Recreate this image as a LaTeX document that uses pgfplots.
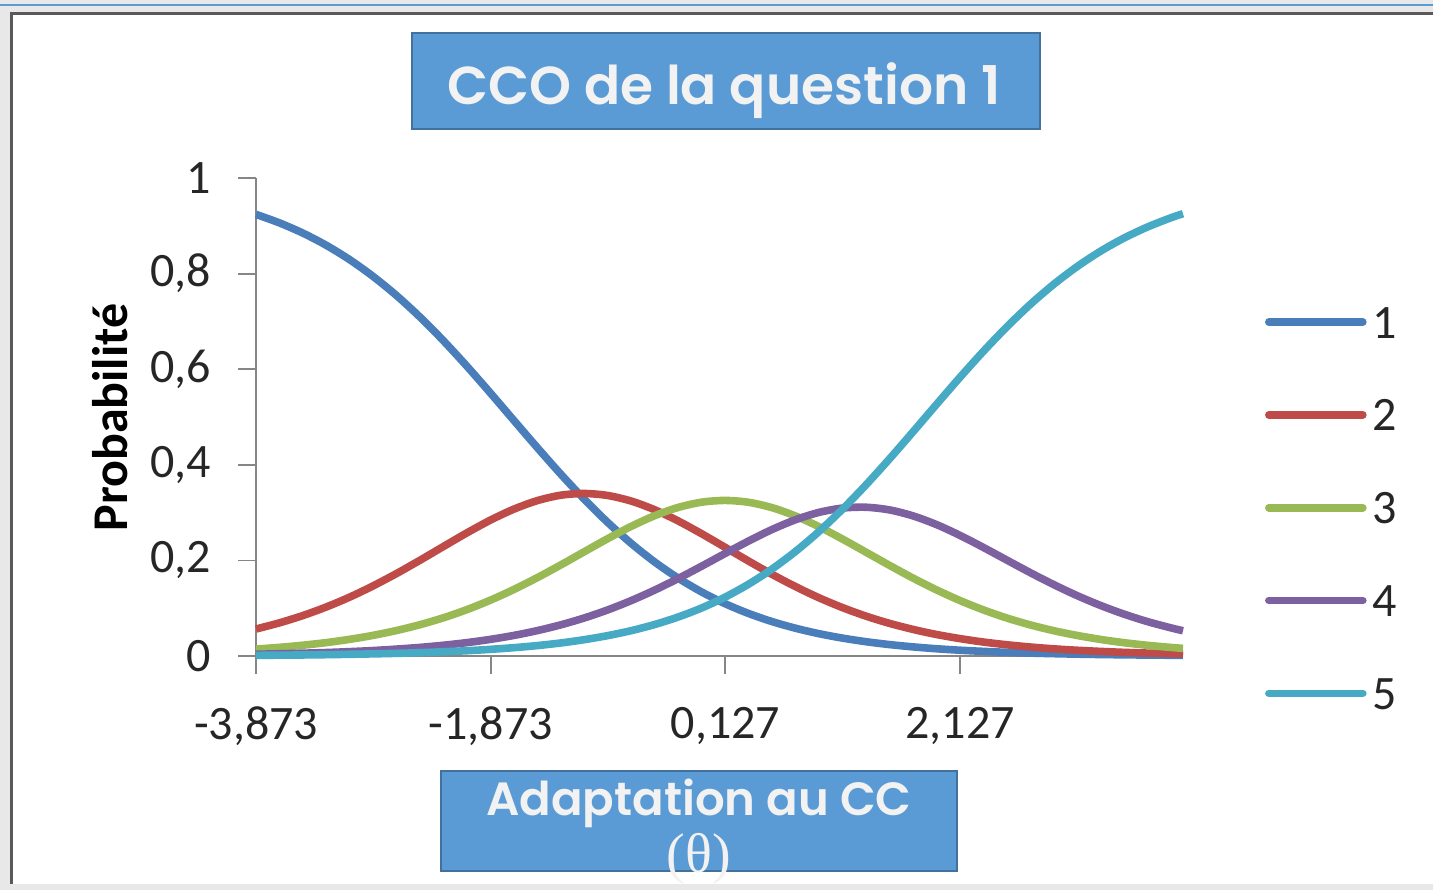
\documentclass[border=0pt]{standalone}
\usepackage{fontspec}
\setmainfont{Carlito}
\newfontfamily\gothic{Poppins SemiBold}
\newfontfamily\serifgr{Liberation Serif}
\usepackage{pgfplots}
\usepackage{pgfplotstable}
\pgfplotsset{compat=1.18}
\definecolor{c1}{HTML}{4A7EBB}
\definecolor{c2}{HTML}{BE4B48}
\definecolor{c3}{HTML}{98B954}
\definecolor{c4}{HTML}{7D60A0}
\definecolor{c5}{HTML}{46AAC5}
\definecolor{boxfill}{HTML}{5B9BD5}
\definecolor{boxdraw}{HTML}{41719C}
\definecolor{axgray}{HTML}{868686}
\definecolor{txt}{HTML}{262626}

\pgfplotstableread{
x p1 p2 p3 p4 p5
-3.873 0.9239 0.0565 0.0145 0.0037 0.0014
-3.673 0.9061 0.0694 0.0181 0.0047 0.0018
-3.473 0.8847 0.0847 0.0226 0.0059 0.0022
-3.273 0.8591 0.1027 0.0281 0.0073 0.0028
-3.073 0.8289 0.1234 0.0350 0.0092 0.0036
-2.873 0.7937 0.1470 0.0433 0.0115 0.0045
-2.673 0.7536 0.1729 0.0535 0.0145 0.0056
-2.473 0.7085 0.2007 0.0657 0.0181 0.0070
-2.273 0.6589 0.2295 0.0802 0.0226 0.0089
-2.073 0.6055 0.2580 0.0973 0.0281 0.0111
-1.873 0.5495 0.2846 0.1171 0.0349 0.0140
-1.673 0.4922 0.3075 0.1395 0.0432 0.0175
-1.473 0.4352 0.3253 0.1643 0.0533 0.0219
-1.273 0.3798 0.3365 0.1909 0.0654 0.0274
-1.073 0.3273 0.3400 0.2185 0.0798 0.0343
-0.873 0.2789 0.3357 0.2459 0.0967 0.0428
-0.673 0.2351 0.3240 0.2715 0.1162 0.0532
-0.473 0.1963 0.3057 0.2938 0.1382 0.0661
-0.273 0.1626 0.2823 0.3110 0.1624 0.0818
-0.073 0.1337 0.2555 0.3219 0.1882 0.1007
0.127 0.1092 0.2270 0.3255 0.2148 0.1235
0.327 0.0888 0.1983 0.3215 0.2408 0.1506
0.527 0.0719 0.1706 0.3102 0.2649 0.1824
0.727 0.0580 0.1449 0.2927 0.2853 0.2192
0.927 0.0466 0.1216 0.2702 0.3006 0.2610
1.127 0.0374 0.1011 0.2444 0.3095 0.3076
1.327 0.0299 0.0833 0.2170 0.3112 0.3585
1.527 0.0239 0.0682 0.1895 0.3056 0.4128
1.727 0.0191 0.0556 0.1629 0.2931 0.4693
1.927 0.0152 0.0450 0.1383 0.2749 0.5266
2.127 0.0121 0.0364 0.1160 0.2523 0.5832
2.327 0.0097 0.0292 0.0964 0.2270 0.6377
2.527 0.0077 0.0235 0.0794 0.2005 0.6889
2.727 0.0061 0.0188 0.0650 0.1742 0.7359
2.927 0.0049 0.0150 0.0529 0.1492 0.7780
3.127 0.0039 0.0120 0.0429 0.1261 0.8151
3.327 0.0031 0.0096 0.0346 0.1055 0.8473
3.527 0.0025 0.0076 0.0278 0.0874 0.8747
3.727 0.0020 0.0061 0.0223 0.0718 0.8978
3.927 0.0016 0.0048 0.0179 0.0587 0.9171
4.027 0.0014 0.0043 0.0160 0.0529 0.9253
}\datatable

\begin{document}
\begin{tikzpicture}
\useasboundingbox (0,0) rectangle (716.5pt,-445pt);
\fill[black!9] (0,0) rectangle (716.5pt,-445pt);
\draw[boxfill, line width=0.8pt] (0,-2.5pt) -- (716.5pt,-2.5pt);
\fill[white] (6pt,-7pt) rectangle (716.5pt,-442pt);
\draw[black!65, line width=1.5pt] (5.5pt,-442pt) -- (5.5pt,-6.5pt) -- (716.5pt,-6.5pt);

% title box
\draw[boxdraw, fill=boxfill, line width=1pt] (206pt,-16.5pt) rectangle (520pt,-64.5pt);
\node[anchor=base, inner sep=0pt, text=white!95!black, font=\gothic\fontsize{26.7}{30}\selectfont] at (362pt,-52pt) {CCO de la question 1};

% y label
\node[rotate=90, anchor=base, inner sep=0pt, text=black, font=\bfseries\fontsize{25}{25}\selectfont] at (63.5pt,-208.75pt) {Probabilité};

% x label box
\draw[boxdraw, fill=boxfill, line width=1pt] (220.5pt,-385.5pt) rectangle (478.5pt,-435.5pt);
\node[anchor=base, inner sep=0pt, text=white!95!black, font=\gothic\fontsize{23.3}{26}\selectfont] at (349.5pt,-407.5pt) {Adaptation au CC};
\node[anchor=base, inner sep=0pt, text=white!95!black, font=\serifgr\fontsize{28}{28}\selectfont] at (349.5pt,-436pt) {(θ)};

\begin{axis}[
  at={(128pt,-328pt)}, anchor=south west,
  width=463.5pt, height=239pt, scale only axis,
  xmin=-3.873, xmax=4.027, ymin=0, ymax=1,
  axis x line*=bottom, axis y line*=left,
  axis line style={axgray, line width=0.9pt, -},
  xtick={-3.873,-1.873,0.127,2.127},
  xticklabels={{-3,873},{-1,873},{0,127},{2,127}},
  ytick={0,0.2,0.4,0.6,0.8,1},
  yticklabels={0,{0,2},{0,4},{0,6},{0,8},1},
  tick align=outside, major tick length=9pt,
  tick style={axgray, line width=0.9pt},
  ticklabel style={font=\fontsize{24}{24}\selectfont, text=txt},
  xticklabel style={yshift=-13pt},
  yticklabel style={xshift=-10pt},
  clip=false,
  legend style={draw=none, fill=none, at={(1.0885,0.732)}, anchor=north west,
    inner sep=0pt, outer sep=0pt, row sep={46.4pt,between origins}, column sep=3pt,
    font=\fontsize{24}{24}\selectfont, text=txt,
    nodes={inner sep=0pt, text height=16pt, text depth=0pt, anchor=base west}},
  legend cell align=left,
  legend image code/.code={\draw[#1, line cap=round, sharp plot] (0pt,8pt) -- (47pt,8pt);},
  every axis plot/.append style={line width=3.8pt, smooth, no markers},
]
\addplot[c1] table[x=x, y=p1] {\datatable};
\addplot[c2] table[x=x, y=p2] {\datatable};
\addplot[c3] table[x=x, y=p3] {\datatable};
\addplot[c4] table[x=x, y=p4] {\datatable};
\addplot[c5] table[x=x, y=p5] {\datatable};
\legend{1,2,3,4,5}
\end{axis}
\end{tikzpicture}
\end{document}
